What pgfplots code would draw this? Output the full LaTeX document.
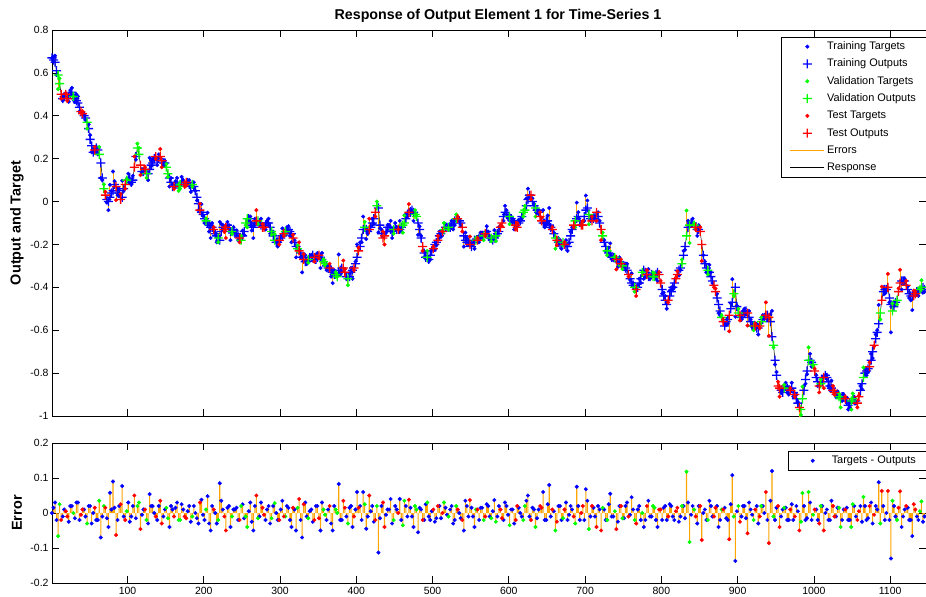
\documentclass[border=0pt]{standalone}
\usepackage{fontspec}
\setmainfont{Liberation Sans}
\usepackage{pgfplots}
\usepackage{pgfplotstable}
\pgfplotsset{compat=1.18}
\definecolor{errorange}{RGB}{255,165,0}
\definecolor{matBlue}{RGB}{0,0,255}
\definecolor{matGreen}{RGB}{0,255,0}
\definecolor{matRed}{RGB}{255,0,0}

% a "+" marker built from two filled bars
\pgfdeclareplotmark{fplus}{%
  \pgfpathrectangle{\pgfpoint{-\pgfplotmarksize}{-0.65bp}}{\pgfpoint{2\pgfplotmarksize}{1.3bp}}%
  \pgfpathrectangle{\pgfpoint{-0.65bp}{-\pgfplotmarksize}}{\pgfpoint{1.3bp}{2\pgfplotmarksize}}%
  \pgfusepathqfill}

% x = time step, y = output (response), e = target - output, c = 0 train / 1 validation / 2 test
\pgfplotstableread{
x y e c
1 0.67 0.00 0
3 0.66 0.015 0
5 0.65 0.03 0
7 0.61 -0.02 0
9 0.59 -0.066 1
11 0.55 0.025 1
13 0.50 -0.02 2
15 0.48 -0.01 0
17 0.49 0.01 0
19 0.50 0.005 2
21 0.48 -0.01 2
23 0.49 -0.025 0
25 0.50 0.02 0
27 0.51 0.02 0
29 0.49 0.00 1
31 0.48 -0.015 0
33 0.47 0.03 0
35 0.46 0.03 0
37 0.44 -0.02 0
39 0.42 -0.005 2
41 0.41 0.01 2
43 0.40 0.01 0
45 0.39 -0.01 0
47 0.37 -0.03 1
49 0.34 0.02 0
51 0.29 0.02 0
53 0.26 -0.03 0
55 0.23 0.0 0
57 0.24 0.015 2
59 0.25 -0.02 0
61 0.24 -0.02 0
63 0.22 0.035 1
65 0.18 -0.07 0
67 0.11 -0.01 0
69 0.06 0.02 1
71 0.03 0.015 2
73 0.01 -0.015 0
75 0.00 -0.04 0
77 0.02 0.058 0
79 0.04 0.01 0
81 0.05 0.09 0
83 0.08 0.015 0
85 0.07 -0.063 2
87 0.05 -0.02 0
89 0.04 0.02 0
91 0.01 0.025 2
93 0.02 0.077 0
95 0.06 -0.01 0
97 0.08 -0.02 2
99 0.10 0.005 1
101 0.10 0.03 0
103 0.11 -0.025 0
105 0.09 -0.01 0
107 0.10 0.02 0
109 0.16 0.05 2
111 0.21 -0.015 0
113 0.25 0.02 1
115 0.22 0.03 1
117 0.17 -0.046 2
119 0.14 -0.005 0
121 0.14 0.01 0
123 0.15 0.01 2
125 0.13 -0.02 1
127 0.13 -0.03 0
129 0.15 0.054 0
131 0.17 0.02 0
133 0.18 0.02 0
135 0.20 0.0 0
137 0.21 -0.01 2
139 0.19 -0.02 0
141 0.20 0.02 0
143 0.21 0.035 2
145 0.19 -0.03 2
147 0.18 -0.01 0
149 0.18 0.01 0
151 0.16 0.015 1
153 0.13 -0.015 1
155 0.11 -0.04 0
157 0.09 0.02 0
159 0.07 0.01 0
161 0.07 -0.01 2
163 0.08 0.015 0
165 0.08 0.03 0
167 0.07 -0.02 1
169 0.08 -0.02 1
171 0.09 0.025 0
173 0.09 0.01 0
175 0.08 -0.01 2
177 0.09 -0.015 2
179 0.09 0.005 0
181 0.08 0.02 0
183 0.07 -0.025 0
185 0.08 -0.01 1
187 0.07 0.02 0
189 0.05 0.00 0
191 0.02 -0.015 0
193 -0.01 -0.03 0
195 -0.04 0.03 2
197 -0.05 0.038 0
199 -0.06 -0.005 0
201 -0.08 -0.02 0
203 -0.09 0.01 1
205 -0.10 0.048 0
207 -0.11 -0.03 0
209 -0.12 -0.05 0
211 -0.12 0.02 0
213 -0.13 0.01 2
215 -0.15 0.0 0
217 -0.16 -0.03 0
219 -0.17 -0.02 1
221 -0.18 0.085 0
223 -0.14 0.035 0
225 -0.12 0.01 0
227 -0.13 -0.01 2
229 -0.12 -0.05 2
231 -0.11 0.015 0
233 -0.13 0.02 0
235 -0.14 -0.04 0
237 -0.14 -0.01 1
239 -0.13 0.01 0
241 -0.15 0.01 0
243 -0.15 0.015 0
245 -0.16 -0.02 0
247 -0.17 -0.02 2
249 -0.18 0.02 1
251 -0.16 0.025 0
253 -0.14 -0.015 0
255 -0.10 -0.01 1
257 -0.08 -0.04 1
259 -0.08 0.005 0
261 -0.10 0.03 0
263 -0.11 -0.025 0
265 -0.12 -0.05 0
267 -0.10 0.02 0
269 -0.09 0.05 2
271 -0.09 -0.015 1
273 -0.10 -0.01 0
275 -0.11 0.03 0
277 -0.12 0.015 2
279 -0.12 -0.005 2
281 -0.11 -0.02 0
283 -0.10 0.01 0
285 -0.10 0.02 0
287 -0.12 -0.03 0
289 -0.14 -0.015 1
291 -0.16 0.02 0
293 -0.18 0.028 1
295 -0.19 0.0 0
297 -0.19 -0.02 0
299 -0.18 -0.02 2
301 -0.17 0.01 0
303 -0.16 0.035 0
305 -0.15 -0.01 2
307 -0.14 -0.01 1
309 -0.14 0.02 0
311 -0.13 0.015 0
313 -0.14 -0.02 0
315 -0.15 -0.04 0
317 -0.17 0.015 2
319 -0.19 0.01 0
321 -0.21 -0.05 0
323 -0.22 0.015 1
325 -0.23 0.04 2
327 -0.24 -0.02 0
329 -0.26 -0.07 0
331 -0.27 0.025 2
333 -0.28 0.03 0
335 -0.28 -0.01 0
337 -0.27 -0.015 1
339 -0.26 0.005 0
341 -0.26 0.01 0
343 -0.25 -0.025 0
345 -0.26 -0.02 2
347 -0.27 0.02 0
349 -0.26 0.02 0
351 -0.25 -0.015 2
353 -0.26 -0.05 0
355 -0.27 0.03 0
357 -0.28 0.01 1
359 -0.29 -0.005 1
361 -0.30 -0.02 0
363 -0.31 0.01 0
365 -0.31 0.02 2
367 -0.32 -0.03 0
369 -0.33 -0.05 0
371 -0.34 0.02 0
373 -0.34 0.01 1
375 -0.35 0.0 1
377 -0.33 0.083 0
379 -0.32 -0.02 0
381 -0.31 -0.02 0
383 -0.31 0.035 2
385 -0.33 0.015 2
387 -0.35 -0.01 0
389 -0.36 -0.03 1
391 -0.35 0.015 0
393 -0.33 0.02 0
395 -0.32 -0.04 0
397 -0.31 -0.01 2
399 -0.29 0.01 0
401 -0.26 0.06 0
403 -0.23 0.015 2
405 -0.21 0.02 0
407 -0.17 -0.02 0
409 -0.13 0.06 0
411 -0.12 0.025 1
413 -0.13 -0.045 0
415 -0.14 -0.01 0
417 -0.13 0.05 2
419 -0.12 0.005 0
421 -0.10 0.02 0
423 -0.08 -0.025 0
425 -0.05 -0.02 2
427 -0.02 0.02 1
429 -0.03 -0.113 0
431 -0.11 -0.015 0
433 -0.15 0.02 0
435 -0.17 0.03 2
437 -0.16 -0.04 2
439 -0.14 -0.005 0
441 -0.12 0.01 0
443 -0.12 0.01 0
445 -0.13 0.04 0
447 -0.14 -0.03 0
449 -0.13 -0.02 1
451 -0.12 0.02 0
453 -0.13 0.01 0
455 -0.13 0.0 2
457 -0.13 0.04 0
459 -0.12 -0.02 0
461 -0.11 -0.035 1
463 -0.10 0.035 1
465 -0.08 0.02 0
467 -0.06 -0.01 0
469 -0.05 0.038 2
471 -0.05 0.015 0
473 -0.04 -0.01 0
475 -0.05 -0.04 0
477 -0.06 0.02 1
479 -0.07 0.01 1
481 -0.10 -0.055 0
483 -0.13 0.015 0
485 -0.17 0.01 0
487 -0.21 -0.02 2
489 -0.24 -0.02 0
491 -0.26 0.025 0
493 -0.26 0.03 1
495 -0.27 -0.01 0
497 -0.25 -0.02 0
499 -0.23 0.005 0
501 -0.22 0.01 2
503 -0.20 -0.025 0
505 -0.19 -0.015 0
507 -0.18 0.02 2
509 -0.16 0.02 0
511 -0.15 -0.015 0
513 -0.14 0.00 2
515 -0.13 0.03 1
517 -0.12 0.015 0
519 -0.12 -0.005 0
521 -0.12 -0.01 1
523 -0.12 0.01 0
525 -0.11 0.02 0
527 -0.10 -0.03 0
529 -0.09 -0.02 0
531 -0.08 0.02 1
533 -0.08 0.01 2
535 -0.09 0.0 0
537 -0.10 -0.015 0
539 -0.12 -0.02 2
541 -0.16 -0.05 0
543 -0.18 0.035 0
545 -0.19 0.02 0
547 -0.19 -0.01 0
549 -0.20 0.037 2
551 -0.21 0.015 0
553 -0.19 -0.01 0
555 -0.18 -0.04 0
557 -0.18 0.01 1
559 -0.18 0.01 2
561 -0.17 -0.02 0
563 -0.16 0.015 0
565 -0.16 0.015 0
567 -0.16 -0.02 1
569 -0.15 -0.01 2
571 -0.14 0.025 0
573 -0.16 0.02 0
575 -0.17 -0.01 0
577 -0.17 -0.015 1
579 -0.18 0.005 0
581 -0.17 0.037 0
583 -0.16 -0.025 1
585 -0.15 -0.01 0
587 -0.14 0.02 0
589 -0.12 0.01 2
591 -0.10 -0.015 2
593 -0.07 -0.02 0
595 -0.05 0.03 0
597 -0.06 0.02 0
599 -0.07 -0.005 0
601 -0.07 -0.035 1
603 -0.08 0.01 0
605 -0.09 0.01 0
607 -0.10 -0.03 0
609 -0.11 -0.02 2
611 -0.12 0.02 2
613 -0.10 0.015 0
615 -0.09 0.0 0
617 -0.07 -0.01 0
619 -0.05 -0.02 1
621 -0.04 0.02 1
623 -0.02 0.035 0
625 0.01 0.05 0
627 0.03 -0.01 0
629 0.03 -0.02 2
631 0.00 0.015 0
633 -0.02 0.01 0
635 -0.03 -0.04 1
637 -0.04 -0.015 0
639 -0.05 0.01 0
641 -0.07 0.02 2
643 -0.09 0.015 2
645 -0.10 0.06 0
647 -0.10 -0.02 0
649 -0.09 -0.02 0
651 -0.09 0.025 0
653 -0.11 0.08 0
655 -0.12 -0.01 0
657 -0.13 0.01 2
659 -0.15 0.005 0
661 -0.17 -0.05 1
663 -0.18 -0.025 2
665 -0.19 0.02 0
667 -0.20 0.02 0
669 -0.20 -0.02 0
671 -0.19 -0.015 1
673 -0.20 0.01 2
675 -0.21 0.03 0
677 -0.21 -0.02 0
679 -0.19 -0.005 0
681 -0.16 0.02 0
683 -0.13 0.01 0
685 -0.11 -0.01 2
687 -0.09 -0.03 1
689 -0.08 0.075 0
691 -0.07 0.02 0
693 -0.09 -0.02 0
695 -0.11 0.0 2
697 -0.11 0.02 2
699 -0.07 -0.02 0
701 -0.04 0.068 0
703 -0.03 0.035 0
705 -0.06 -0.046 1
707 -0.08 -0.01 0
709 -0.09 0.02 2
711 -0.08 0.015 0
713 -0.07 -0.01 0
715 -0.05 -0.04 2
717 -0.07 0.02 0
719 -0.10 0.01 0
721 -0.13 -0.05 2
723 -0.16 0.015 1
725 -0.19 0.01 0
727 -0.21 -0.02 0
729 -0.23 -0.02 1
731 -0.24 0.025 0
733 -0.25 0.055 0
735 -0.26 -0.01 0
737 -0.26 -0.01 0
739 -0.26 0.005 1
741 -0.27 -0.046 2
743 -0.28 -0.025 0
745 -0.28 0.02 0
747 -0.29 0.02 2
749 -0.30 -0.015 1
751 -0.30 -0.015 0
753 -0.31 0.02 0
755 -0.32 0.03 0
757 -0.34 -0.01 2
759 -0.36 -0.005 0
761 -0.38 0.045 0
763 -0.39 0.01 0
765 -0.40 -0.02 1
767 -0.41 -0.03 2
769 -0.40 0.01 0
771 -0.38 0.02 0
773 -0.36 -0.02 0
775 -0.33 0.0 1
777 -0.32 -0.04 0
779 -0.33 -0.02 0
781 -0.34 0.02 2
783 -0.35 0.035 0
785 -0.35 -0.01 0
787 -0.34 -0.01 0
789 -0.35 0.02 1
791 -0.35 0.015 1
793 -0.34 -0.02 0
795 -0.33 -0.04 0
797 -0.34 0.01 2
799 -0.38 0.01 2
801 -0.41 -0.02 0
803 -0.44 0.015 0
805 -0.46 0.02 0
807 -0.48 -0.02 0
809 -0.46 -0.01 2
811 -0.44 0.025 0
813 -0.42 0.02 0
815 -0.40 -0.01 0
817 -0.38 -0.02 0
819 -0.36 0.005 2
821 -0.34 0.015 2
823 -0.32 -0.025 0
825 -0.31 -0.01 0
827 -0.29 0.02 1
829 -0.25 0.02 0
831 -0.21 -0.015 0
833 -0.16 0.118 1
835 -0.12 0.03 0
837 -0.11 -0.083 1
839 -0.10 -0.005 0
841 -0.10 0.02 0
843 -0.11 0.01 1
845 -0.12 -0.01 2
847 -0.13 -0.03 0
849 -0.13 0.02 0
851 -0.14 0.02 2
853 -0.20 -0.077 2
855 -0.25 0.0 0
857 -0.29 0.01 0
859 -0.31 -0.02 0
861 -0.32 -0.02 1
863 -0.33 0.035 0
865 -0.35 0.02 0
867 -0.37 -0.01 0
869 -0.39 -0.01 2
871 -0.42 0.015 2
873 -0.45 0.02 0
875 -0.48 -0.04 0
877 -0.51 -0.02 0
879 -0.54 0.01 1
881 -0.56 0.01 2
883 -0.58 0.015 0
885 -0.56 -0.015 0
887 -0.55 -0.02 0
889 -0.53 -0.075 2
891 -0.50 0.025 0
893 -0.47 0.108 0
895 -0.43 -0.01 1
897 -0.40 -0.137 0
899 -0.49 0.005 0
901 -0.52 0.02 1
903 -0.53 -0.025 2
905 -0.54 -0.01 0
907 -0.53 0.02 0
909 -0.52 0.02 0
911 -0.51 -0.015 0
913 -0.52 -0.058 2
915 -0.54 0.03 0
917 -0.56 0.01 0
919 -0.58 -0.005 0
921 -0.58 -0.02 1
923 -0.58 0.01 2
925 -0.59 0.02 0
927 -0.59 -0.03 0
929 -0.58 -0.01 2
931 -0.56 0.02 1
933 -0.55 0.02 0
935 -0.54 0.0 0
937 -0.53 0.06 2
939 -0.53 -0.02 0
941 -0.54 -0.086 2
943 -0.56 0.035 0
945 -0.63 0.12 0
947 -0.67 -0.01 1
949 -0.74 -0.02 0
951 -0.81 0.015 0
953 -0.86 0.02 2
955 -0.87 -0.04 2
957 -0.88 -0.01 0
959 -0.89 0.01 0
961 -0.87 0.015 1
963 -0.86 0.015 0
965 -0.87 -0.02 0
967 -0.88 -0.02 0
969 -0.88 0.01 2
971 -0.87 0.025 0
973 -0.89 -0.02 0
975 -0.90 -0.01 2
977 -0.92 0.02 0
979 -0.94 0.005 0
981 -0.96 -0.05 2
983 -0.97 -0.025 1
985 -0.92 0.057 1
987 -0.88 0.02 0
989 -0.83 -0.02 0
991 -0.79 -0.015 0
993 -0.74 0.06 1
995 -0.74 0.03 0
997 -0.75 -0.02 0
999 -0.76 -0.005 1
1001 -0.79 0.01 2
1003 -0.82 0.01 0
1005 -0.84 -0.02 0
1007 -0.86 -0.03 2
1009 -0.85 0.02 1
1011 -0.84 0.02 0
1013 -0.82 -0.05 2
1015 -0.81 0.0 0
1017 -0.82 0.01 0
1019 -0.84 -0.02 0
1021 -0.86 -0.02 0
1023 -0.87 0.035 0
1025 -0.88 0.02 2
1027 -0.89 -0.01 2
1029 -0.90 -0.01 0
1031 -0.90 0.015 0
1033 -0.91 0.015 1
1035 -0.92 -0.04 1
1037 -0.91 -0.02 0
1039 -0.91 0.01 0
1041 -0.92 0.01 2
1043 -0.93 0.015 0
1045 -0.95 -0.02 0
1047 -0.94 -0.02 0
1049 -0.93 -0.04 1
1051 -0.92 0.025 1
1053 -0.93 0.02 0
1055 -0.93 -0.01 0
1057 -0.94 -0.02 2
1059 -0.91 0.005 2
1061 -0.88 0.02 0
1063 -0.85 -0.025 0
1065 -0.82 0.046 1
1067 -0.80 0.02 0
1069 -0.79 -0.02 0
1071 -0.78 -0.015 0
1073 -0.77 0.02 2
1075 -0.74 0.03 0
1077 -0.70 -0.03 0
1079 -0.67 -0.005 2
1081 -0.64 0.02 0
1083 -0.61 0.01 0
1085 -0.57 0.088 0
1087 -0.52 -0.03 1
1089 -0.46 0.063 2
1091 -0.42 0.02 0
1093 -0.41 -0.02 0
1095 -0.41 0.0 0
1097 -0.40 0.063 2
1099 -0.45 -0.02 0
1101 -0.48 -0.13 0
1103 -0.51 0.035 1
1105 -0.49 0.02 0
1107 -0.47 -0.01 0
1109 -0.46 -0.02 1
1111 -0.42 0.015 2
1113 -0.38 0.062 2
1115 -0.37 -0.04 0
1117 -0.37 -0.01 0
1119 -0.37 0.01 0
1121 -0.39 0.02 2
1123 -0.41 0.015 0
1125 -0.43 -0.02 0
1127 -0.44 -0.02 0
1129 -0.44 -0.066 0
1131 -0.44 0.025 2
1133 -0.43 0.01 2
1135 -0.42 -0.01 0
1137 -0.42 -0.02 0
1139 -0.41 0.005 1
1141 -0.40 0.033 1
1143 -0.40 -0.025 0
1145 -0.41 -0.01 0
}\data

\pgfplotsset{
  mlab/.style={
    scale only axis, width=874bp,
    xmin=1, xmax=1147,
    tick align=inside, major tick length=7bp,
    tick style={black, line width=0.7bp},
    axis line style={black, line width=0.8bp},
    xtick={100,200,300,400,500,600,700,800,900,1000,1100},
    ticklabel style={font=\fontsize{10.5}{12}\selectfont},
    legend style={draw=black, thin, font=\fontsize{11}{13}\selectfont,
      legend cell align=left, row sep=2.3bp, inner xsep=8bp, inner ysep=2bp,
      nodes={inner sep=2bp, text height=8.5bp, text depth=2.5bp}},
    legend image code/.code={\path[draw=none, fill=none] (0bp,-3bp) (34bp,3bp); \draw[mark repeat=2, mark phase=2, ##1] plot coordinates {(0bp,0bp) (17bp,0bp) (34bp,0bp)};},
    every axis y label/.style={at={(axis description cs:-0.040,0.5)}, rotate=90, anchor=center, font=\fontsize{14.5}{16}\selectfont\bfseries},
  },
  tgt/.style={only marks, mark=*, mark size=1.8bp, color=#1, fill=#1, mark options={draw=none, fill=#1}},
  outp/.style={only marks, mark=fplus, mark size=4.5bp, color=#1, fill=#1, mark options={draw=none, fill=#1}},
}

\begin{document}
\begin{tikzpicture}
\begin{axis}[mlab,
  height=386bp, at={(52bp,-416bp)}, anchor=south west,
  ymin=-1, ymax=0.8,
  xticklabels={},
  ytick={-1,-0.8,-0.6,-0.4,-0.2,0,0.2,0.4,0.6,0.8},
  yticklabels={-1,-0.8,-0.6,-0.4,-0.2,0,0.2,0.4,0.6,0.8},
  title={Response of Output Element 1 for Time-Series 1},
  title style={font=\fontsize{14.3}{16}\selectfont\bfseries, at={(0.5,1)}, anchor=base, yshift=4.5bp, xshift=9bp},
  ylabel={Output and Target},
  legend style={at={(1,0.982)}, anchor=north east},
]
\addplot[errorange, line width=1bp, forget plot, quiver={u=0, v=\thisrow{e}}] table[x=x, y=y] {\data};
\addplot[black, line width=0.5bp, no marks, forget plot] table[x=x, y=y] {\data};
\addplot[tgt=matBlue, restrict expr to domain={\thisrow{c}}{0:0}] table[x=x, y expr=\thisrow{y}+\thisrow{e}] {\data};
\addlegendentry{Training Targets}
\addplot[outp=matBlue, restrict expr to domain={\thisrow{c}}{0:0}] table[x=x, y=y] {\data};
\addlegendentry{Training Outputs}
\addplot[tgt=matGreen, restrict expr to domain={\thisrow{c}}{1:1}] table[x=x, y expr=\thisrow{y}+\thisrow{e}] {\data};
\addlegendentry{Validation Targets}
\addplot[outp=matGreen, restrict expr to domain={\thisrow{c}}{1:1}] table[x=x, y=y] {\data};
\addlegendentry{Validation Outputs}
\addplot[tgt=matRed, restrict expr to domain={\thisrow{c}}{2:2}] table[x=x, y expr=\thisrow{y}+\thisrow{e}] {\data};
\addlegendentry{Test Targets}
\addplot[outp=matRed, restrict expr to domain={\thisrow{c}}{2:2}] table[x=x, y=y] {\data};
\addlegendentry{Test Outputs}
\addlegendimage{errorange, line width=1.5bp}
\addlegendentry{Errors}
\addlegendimage{black, line width=0.6bp}
\addlegendentry{Response}
\end{axis}

\begin{axis}[mlab,
  height=140bp, at={(52bp,-583bp)}, anchor=south west,
  ymin=-0.2, ymax=0.2,
  xticklabels={100,200,300,400,500,600,700,800,900,1000,1100},
  xticklabel style={yshift=-1bp},
  ytick={-0.2,-0.1,0,0.1,0.2},
  yticklabels={-0.2,-0.1,0,0.1,0.2},
  ylabel={Error},
  legend style={at={(1,0.943)}, anchor=north east},
]
\addplot[ybar, bar width=1.1bp, bar shift=0pt, draw=none, fill=errorange, forget plot] table[x=x, y=e] {\data};
\addplot[tgt=matBlue, restrict expr to domain={\thisrow{c}}{0:0}] table[x=x, y=e] {\data};
\addlegendentry{Targets - Outputs}
\addplot[tgt=matGreen, forget plot, restrict expr to domain={\thisrow{c}}{1:1}] table[x=x, y=e] {\data};
\addplot[tgt=matRed, forget plot, restrict expr to domain={\thisrow{c}}{2:2}] table[x=x, y=e] {\data};
\end{axis}
\pgfresetboundingbox
\path[use as bounding box] (0,0) rectangle (926bp,-597bp);
\end{tikzpicture}
\end{document}
